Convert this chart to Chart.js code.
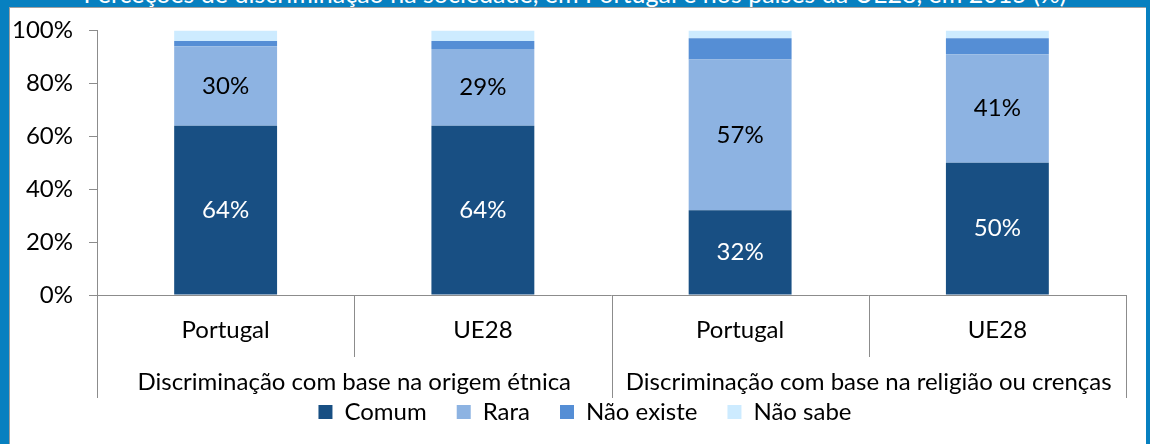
<!DOCTYPE html>
<html>
<head>
<meta charset="utf-8">
<script src="https://cdn.jsdelivr.net/npm/chart.js@4"></script>
<style>
    body { margin: 0; width: 1150px; height: 444px; overflow: hidden; background: #0780c0; position: relative; font-family: Lato, sans-serif; }
    #frame { position: absolute; left: 9px; top: 7px; width: 1136px; height: 440px; background: #fff; border-top: 1px solid #a0a0a0; border-left: 1px solid #a0a0a0; }
    #title { position: absolute; top: -19px; left: 0; width: 1150px; text-align: center; color: #fff; font-size: 25px; line-height: 25px; white-space: nowrap; }
    canvas { position: absolute; left: 0; top: 0; }
</style>
</head>
<body>
<div id="frame"></div>
<div id="title">Perceções de discriminação na sociedade, em Portugal e nos países da UE28, em 2015 (%)</div>
<canvas id="chart" width="1150" height="444"></canvas>
<script>
// data
const categories = ['Portugal', 'UE28', 'Portugal', 'UE28'];
const groups = ['Discriminação com base na origem étnica', 'Discriminação com base na religião ou crenças'];
const groupSize = 2;
const seriesNames = ['Comum', 'Rara', 'Não existe', 'Não sabe'];
const comum = [64, 64, 32, 50];
const rara = [30, 29, 57, 41];
const naoExiste = [2, 3, 8, 6];
const naoSabe = [4, 4, 3, 3];
const yTicks = [0, 20, 40, 60, 80, 100];

const colors = ['#184f83', '#8db3e2', '#558ed5', '#cdebff'];
const labelColors = ['#ffffff', '#000000', null, null];
const axisColor = '#8c8c8c';
const fontSize = 24;

Chart.defaults.font.family = 'Lato';
Chart.defaults.font.size = fontSize;
Chart.defaults.color = '#000';

// value labels inside the bars (only Comum and Rara are labelled)
const barLabels = {
    id: 'barLabels',
    afterDatasetsDraw(chart) {
        const ctx = chart.ctx;
        ctx.save();
        ctx.font = `${fontSize}px Lato`;
        ctx.textAlign = 'center';
        ctx.textBaseline = 'middle';
        chart.data.datasets.forEach((ds, di) => {
            if (!labelColors[di]) return;
            const meta = chart.getDatasetMeta(di);
            meta.data.forEach((bar, i) => {
                const c = bar.getCenterPoint();
                ctx.fillStyle = labelColors[di];
                ctx.fillText(`${ds.data[i]}%`, c.x, c.y);
            });
        });
        ctx.restore();
    }
};

// two-level category axis: separators and group labels
const groupAxis = {
    id: 'groupAxis',
    afterLayout(chart) {
        // legend sits a little right of the canvas centre in the original
        chart.legend.left += 34;
    },
    afterDraw(chart) {
        const ctx = chart.ctx;
        const x = chart.scales.x;
        const area = chart.chartArea;
        const n = categories.length;
        const step = (area.right - area.left) / n;
        ctx.save();
        ctx.strokeStyle = axisColor;
        ctx.lineWidth = 1;
        ctx.beginPath();
        ctx.moveTo(area.left, area.bottom + 0.5);
        ctx.lineTo(area.right, area.bottom + 0.5);
        for (let i = 0; i <= n; i++) {
            let bx = Math.round(x.getPixelForValue(0) - step / 2 + i * step) + 0.5;
            let len = (i % groupSize == 0) ? 103 : 62;
            ctx.moveTo(bx, area.bottom);
            ctx.lineTo(bx, area.bottom + len);
        }
        ctx.stroke();

        ctx.font = `${fontSize}px Lato`;
        ctx.fillStyle = '#000';
        ctx.textAlign = 'center';
        ctx.textBaseline = 'middle';
        groups.forEach((g, gi) => {
            let first = x.getPixelForValue(gi * groupSize);
            let last = x.getPixelForValue(gi * groupSize + groupSize - 1);
            ctx.fillText(g, (first + last) / 2, area.bottom + 87);
        });
        ctx.restore();
    }
};

function drawChart() {
    const ctxt = document.getElementById('chart').getContext('2d');
    const series = [comum, rara, naoExiste, naoSabe];

    return new Chart(ctxt, {
        type: 'bar',
        data: {
            labels: categories,
            datasets: series.map((s, i) => ({
                label: seriesNames[i],
                data: s,
                backgroundColor: colors[i],
                borderWidth: 0,
                barPercentage: 0.4,
                categoryPercentage: 1
            }))
        },
        options: {
            responsive: false,
            animation: false,
            layout: { padding: { left: 10, right: 24, top: 30, bottom: 10 } },
            scales: {
                x: {
                    stacked: true,
                    grid: { display: false },
                    border: { display: false },
                    ticks: { padding: 13, color: '#000' },
                    afterFit: (scale) => { scale.height = 75; }
                },
                y: {
                    stacked: true,
                    min: 0,
                    max: 100,
                    afterBuildTicks: (scale) => { scale.ticks = yTicks.map(v => ({ value: v })); },
                    ticks: { padding: 16, color: '#000', callback: (v) => `${v}%` },
                    grid: { drawOnChartArea: false, tickLength: 8, color: axisColor },
                    border: { color: axisColor },
                    afterFit: (scale) => { scale.width = 87; }
                }
            },
            plugins: {
                legend: {
                    position: 'bottom',
                    labels: { boxWidth: 14, boxHeight: 14, padding: 30, color: '#000' }
                },
                tooltip: { enabled: false }
            }
        },
        plugins: [barLabels, groupAxis]
    });
}

document.fonts.load(`${fontSize}px Lato`).then(() => { drawChart(); });
</script>
</body>
</html>
